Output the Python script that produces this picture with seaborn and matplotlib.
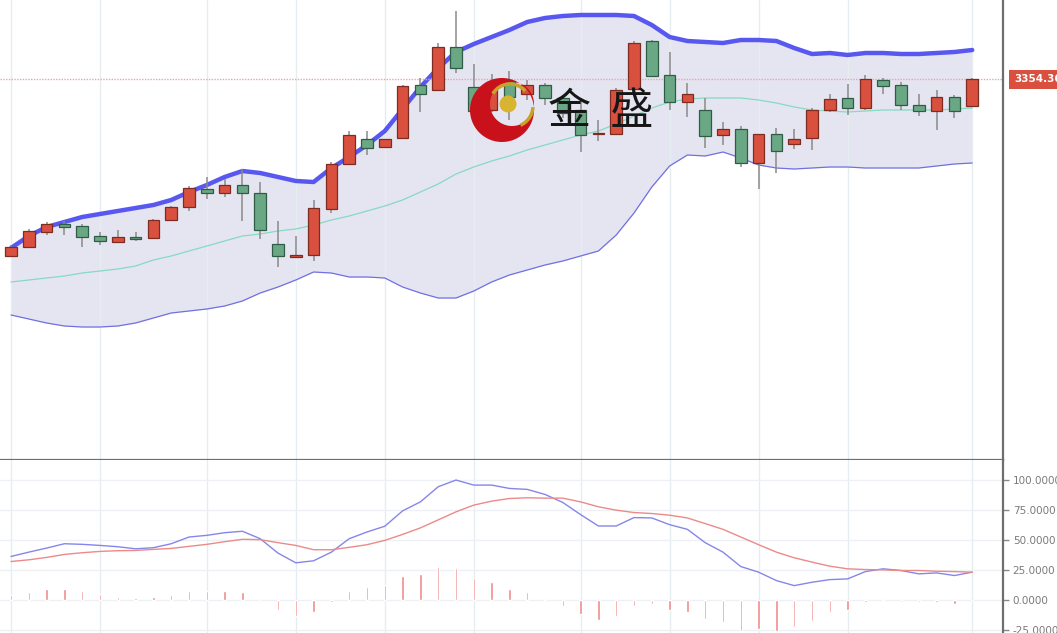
import numpy as np
import pandas as pd
import seaborn as sns
import matplotlib
matplotlib.use("Agg")
from matplotlib import pyplot as plt
from matplotlib.patches import Rectangle, Ellipse, Arc, PathPatch
from matplotlib.path import Path
import matplotlib.transforms as mtrans

# ---- candles (4h gold, price units) ----
opens = [3266, 3270.5, 3278, 3282, 3281, 3276, 3273, 3275.5, 3275, 3284,
         3290.5, 3299.5, 3297.5, 3301.5, 3297.5, 3272, 3265.5, 3266.5, 3289.5, 3312,
         3324.5, 3320.5, 3325, 3351.5, 3349, 3370.5, 3350.5, 3339, 3353.5, 3347,
         3351.5, 3345, 3339, 3327, 3327, 3349.5, 3373.5, 3356.5, 3343, 3339,
         3326.5, 3329.5, 3312.5, 3327, 3322, 3325, 3339, 3345, 3340, 3354,
         3351.5, 3341.5, 3338.5, 3345.5, 3341]
highs = [3271.5, 3279.5, 3283, 3283.5, 3282, 3278, 3279, 3278, 3284.5, 3291,
         3301, 3305.5, 3304.5, 3309.5, 3303, 3283.5, 3276, 3294, 3313, 3328.5,
         3328.5, 3324.5, 3351.5, 3355, 3372.5, 3388.5, 3362, 3357, 3358.5, 3354,
         3352.5, 3346.5, 3344, 3334, 3350, 3373.5, 3374, 3368, 3352.5, 3345,
         3333, 3331, 3327, 3330, 3329.5, 3340, 3347, 3352, 3356.5, 3355,
         3353, 3347, 3349, 3346.5, 3355]
lows = [3265.5, 3270, 3276.5, 3276.5, 3270.5, 3271.5, 3272.5, 3273.5, 3275, 3283.5,
        3288.5, 3294.5, 3295.5, 3283.5, 3274.5, 3260.5, 3265.5, 3263.5, 3287.5, 3312,
        3316.5, 3320.5, 3325, 3338, 3348.5, 3357.5, 3338.5, 3338, 3334, 3344,
        3341.5, 3335, 3318, 3323.5, 3327, 3349, 3355.5, 3339, 3335.5, 3320,
        3321.5, 3310.5, 3299.5, 3307.5, 3319.5, 3319, 3338, 3336.5, 3339, 3347,
        3339, 3336, 3329, 3335, 3340.5]
closes = [3270.5, 3278.5, 3282, 3280.5, 3275.5, 3273.5, 3275.5, 3274.5, 3284, 3290.5,
          3300, 3297.5, 3301.5, 3297.5, 3279, 3266, 3266.5, 3290, 3312, 3326.5,
          3320, 3324.5, 3351, 3347, 3370.5, 3360, 3338.5, 3353, 3345.5, 3351.5,
          3345, 3337.5, 3326.5, 3327, 3349, 3372.5, 3356, 3343, 3347, 3326,
          3329.5, 3312.5, 3327, 3318.5, 3324.5, 3339, 3344.5, 3340, 3354.5, 3351,
          3341.5, 3338.5, 3345.5, 3338.5, 3354.36]

# ---- bollinger bands ----
boll_upper = [3270, 3276, 3280.5, 3283, 3285.5, 3287, 3288.5, 3290, 3291.5, 3294,
              3298, 3301.5, 3305.5, 3308.5, 3307.5, 3305.5, 3303.5, 3303, 3310, 3315.5,
              3321.5, 3328.5, 3339.5, 3350.5, 3360, 3368, 3372, 3375.5, 3379, 3383,
              3385, 3386, 3386.5, 3386.5, 3386.5, 3386, 3381.5, 3375.5, 3373.5, 3373,
              3372.5, 3374, 3374, 3373.5, 3370, 3367, 3367.5, 3366.5, 3367.5, 3367.5,
              3367, 3367, 3367.5, 3368, 3369]
boll_mid = [3253, 3254, 3255, 3256, 3257.5, 3258.5, 3259.5, 3261, 3264, 3266,
            3268.5, 3271, 3273.5, 3276, 3277, 3278.5, 3279.5, 3281.5, 3284, 3286,
            3288.5, 3291, 3294, 3298, 3302, 3307, 3310.5, 3313.5, 3316, 3319,
            3321.5, 3324, 3326.5, 3328.5, 3332, 3336, 3340, 3343, 3344.5, 3345,
            3345, 3345, 3344, 3342.5, 3340.5, 3339, 3338.5, 3338, 3338.5, 3339,
            3339, 3339, 3339, 3339.5, 3340]
boll_lower = [3236.5, 3234.5, 3232.5, 3231, 3230.5, 3230.5, 3231, 3232.5, 3235, 3237.5,
              3238.5, 3239.5, 3241, 3243.5, 3247.5, 3250.5, 3254, 3258, 3257.5, 3255.5,
              3255.5, 3255, 3250.5, 3247.5, 3245, 3245, 3248.5, 3253, 3256.5, 3259,
              3261.5, 3263.5, 3266, 3268.5, 3276.5, 3287.5, 3300.5, 3311, 3316.5, 3316,
              3318, 3315, 3311.5, 3310, 3309.5, 3310, 3310.5, 3310.5, 3310, 3310,
              3310, 3310, 3311, 3312, 3312.5]

# ---- oscillator panel ----
k_line = [36.3, 39.9, 43.3, 46.9, 46.4, 45.5, 44.4, 42.7, 43.6, 46.9,
          52.5, 53.9, 56.1, 57.3, 51.1, 39.1, 31.0, 32.7, 39.9, 51.1,
          56.7, 61.5, 74.3, 81.8, 94.4, 100.0, 95.8, 95.8, 93.0, 92.2,
          88.0, 81.3, 71.2, 61.7, 61.7, 68.7, 68.4, 62.8, 58.9, 47.8,
          39.9, 27.9, 23.2, 16.2, 12.0, 14.8, 17.0, 17.6, 23.7, 26.0,
          24.6, 21.8, 22.6, 20.4, 23.2]
d_line = [32.1, 33.5, 35.5, 38.0, 39.4, 40.5, 41.1, 41.3, 42.2, 43.0,
          44.7, 46.4, 48.6, 50.6, 50.3, 47.8, 45.5, 41.9, 41.9, 43.9,
          46.1, 49.7, 54.7, 60.1, 66.8, 73.5, 79.1, 82.4, 84.6, 85.2,
          84.9, 84.9, 81.8, 77.7, 74.9, 72.9, 72.1, 70.7, 68.4, 63.7,
          58.9, 52.5, 46.1, 39.9, 35.2, 31.6, 28.2, 26.0, 25.4, 25.1,
          24.6, 24.6, 24.0, 23.7, 23.2]
hist = [4.2, 6.4, 9.2, 9.2, 7.3, 4.7, 2.8, 1.4, 2.2, 4.2,
        7.3, 7.5, 7.8, 6.4, 0.0, -8.1, -13.1, -9.8, -2.0, 7.3,
        10.6, 12.6, 19.8, 21.5, 27.4, 26.5, 18.2, 14.8, 9.2, 6.4,
        0.8, -4.7, -11.7, -16.5, -13.1, -4.7, -3.4, -8.1, -9.8, -15.9,
        -18.7, -25.7, -24.3, -25.7, -22.9, -17.3, -10.3, -8.1, -2.0, 0.8,
        -1.4, -2.0, -2.0, -3.4, 0.0]
osc_ticks = [-25, 0, 25, 50, 75, 100]
grid_idx = [0, 5, 11, 16, 21, 26, 32, 37, 42, 47, 54]
last_price = 3354.36

UP = "#d9503f"
UP_EDGE = "#7e2b21"
DOWN = "#6aa784"
DOWN_EDGE = "#2f5c45"

sns.set_theme(style="white")
plt.rcParams["font.family"] = ["DejaVu Sans"]

W, H = 1057, 633
fig = plt.figure(figsize=(W / 100, H / 100), dpi=100)
split = 460
ax = fig.add_axes([0, (H - split) / H, 1003 / W, split / H])
ax2 = fig.add_axes([0, 0, 1003 / W, (H - split) / H], sharex=ax)

df = pd.DataFrame({"i": np.arange(len(opens)), "open": opens, "high": highs,
                   "low": lows, "close": closes, "up": boll_upper,
                   "mid": boll_mid, "lo": boll_lower})
osc = pd.DataFrame({"i": np.arange(len(k_line)), "k": k_line, "d": d_line, "h": hist})

# bands
ax.fill_between(df["i"], df["lo"], df["up"], color="#e5e5f2", zorder=0, lw=0)
sns.lineplot(data=df, x="i", y="up", ax=ax, color="#5858f0", lw=3.2, zorder=1)
sns.lineplot(data=df, x="i", y="mid", ax=ax, color="#86d9c2", lw=0.9, zorder=1)
sns.lineplot(data=df, x="i", y="lo", ax=ax, color="#7070e4", lw=0.9, zorder=1)

# candles
ax.vlines(df["i"], df["low"], df["high"], color="#8a8a8a", lw=1.1, zorder=2)
for r in df.itertuples():
    up = r.close >= r.open
    lo_ = min(r.open, r.close)
    h = max(abs(r.close - r.open), 0.5)
    ax.add_patch(Rectangle((r.i - 0.33, lo_), 0.66, h,
                           facecolor=UP if up else DOWN,
                           edgecolor=UP_EDGE if up else DOWN_EDGE,
                           lw=0.9, zorder=3))

ax.axhline(last_price, color="#eaa5a5", lw=1, ls=(0, (1, 1)), zorder=1)
for g in grid_idx:
    ax.axvline(g, color="#e6edf1", lw=1, zorder=0)
    ax2.axvline(g, color="#e6edf1", lw=1, zorder=0)

ax.set_xlim(-11 / 17.8, (1003 - 11) / 17.8)
ax.set_ylim(3164, 3394)
ax.set_yticks([])
ax.set_xlabel("")
ax.set_ylabel("")
ax.tick_params(axis="x", bottom=False, labelbottom=False)
for s in ["top", "left"]:
    ax.spines[s].set_visible(False)
ax.spines["right"].set_color("#6e6e6e")
ax.spines["right"].set_linewidth(1.6)
ax.spines["bottom"].set_color("#6e6e6e")
ax.spines["bottom"].set_linewidth(1.6)

trans = mtrans.blended_transform_factory(ax.transAxes, ax.transData)
ax.text(1.011, last_price, "3354.36", transform=trans, color="white",
        fontsize=7.5, fontweight="bold", va="center", ha="left", clip_on=False,
        bbox=dict(boxstyle="square,pad=0.45", fc=UP, ec="none"))

# oscillator
ax2.bar(osc["i"], osc["h"], width=0.14, color="#ef8b8b", zorder=2)
sns.lineplot(data=osc, x="i", y="k", ax=ax2, color="#8686ea", lw=1, zorder=3)
sns.lineplot(data=osc, x="i", y="d", ax=ax2, color="#ec8a8a", lw=1, zorder=3)
ax2.set_ylim(-27.5, 116.7)
ax2.set_yticks(osc_ticks)
ax2.set_yticklabels([f"{v:.4f}" for v in osc_ticks])
for v in osc_ticks:
    ax2.axhline(v, color="#edf1f5", lw=1, zorder=0)
ax2.yaxis.tick_right()
ax2.tick_params(axis="y", right=True, length=4, width=1, color="#888888",
                labelsize=7.5, labelcolor="#7a7a7a", pad=3)
ax2.tick_params(axis="x", bottom=False, labelbottom=False)
ax2.set_xlabel("")
ax2.set_ylabel("")
for s in ["top", "left", "bottom"]:
    ax2.spines[s].set_visible(False)
ax2.spines["right"].set_color("#6e6e6e")
ax2.spines["right"].set_linewidth(1.6)

# watermark logo (pixel coords -> figure fraction)
def fx(px):
    return px / W

def fy(py):
    return 1 - py / H

t = np.linspace(0, 2 * np.pi, 120)
outer = np.column_stack([fx(502 + 32 * np.cos(t)), fy(110 + 32 * np.sin(t))])
inner = np.column_stack([fx(512 + 22 * np.cos(-t)), fy(104 + 22 * np.sin(-t))])
verts = np.vstack([outer, inner])
codes = np.full(len(verts), Path.LINETO)
codes[0] = Path.MOVETO
codes[len(outer)] = Path.MOVETO
fig.patches.append(PathPatch(Path(verts, codes), transform=fig.transFigure,
                             fc="#c8111b", ec="none", zorder=5))
fig.patches.append(Ellipse((fx(508), fy(104)), 17 / W, 17 / H,
                           transform=fig.transFigure, fc="#d9b431", ec="none", zorder=6))
fig.patches.append(Arc((fx(510), fy(104)), 40 / W, 40 / H, theta1=55, theta2=135,
                       transform=fig.transFigure, color="#c9a227", lw=2.5, zorder=6))
fig.patches.append(Arc((fx(512), fy(106)), 42 / W, 42 / H, theta1=-75, theta2=-5,
                       transform=fig.transFigure, color="#c9a227", lw=2.5, zorder=6))
fig.text(fx(548), fy(112), "金  盛", fontsize=31, color="#161616",
         family=["Noto Sans CJK SC", "DejaVu Sans"], va="center", ha="left", zorder=7)

fig.savefig("out.png", dpi=100)
